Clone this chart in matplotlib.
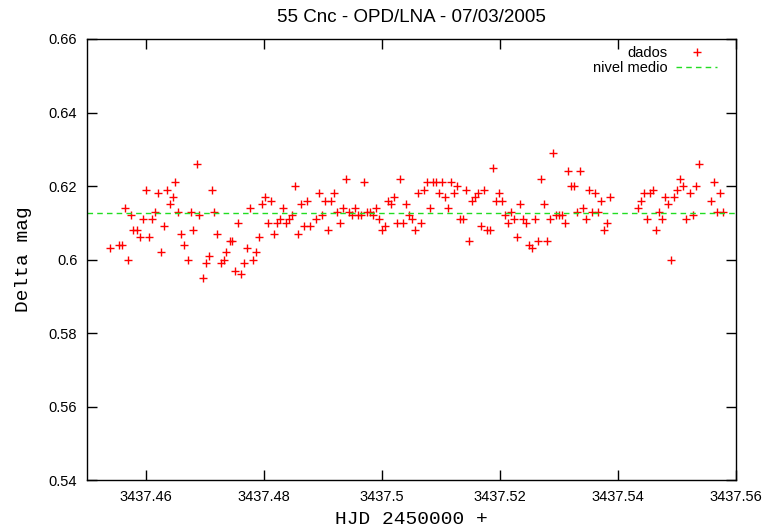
import numpy as np
import matplotlib
matplotlib.use("Agg")
import matplotlib.pyplot as plt
from matplotlib.ticker import FuncFormatter

# Differential photometry of 55 Cnc, OPD/LNA, night of 07/03/2005
hjd_base = 3437.45
hjd_offset = [
    0.00390, 0.00542, 0.00593, 0.00644, 0.00695, 0.00746, 0.00785, 0.00842,
    0.00898, 0.00949, 0.00995, 0.01051, 0.01102, 0.01153, 0.01198, 0.01254,
    0.01305, 0.01351, 0.01402, 0.01453, 0.01497, 0.01547, 0.01598, 0.01649,
    0.01707, 0.01758, 0.01802, 0.01859, 0.01903, 0.01958, 0.02012, 0.02063,
    0.02114, 0.02158, 0.02208, 0.02266, 0.02317, 0.02361, 0.02424, 0.02463,
    0.02514, 0.02564, 0.02615, 0.02666, 0.02717, 0.02768, 0.02819, 0.02869,
    0.02920, 0.02971, 0.03022, 0.03073, 0.03124, 0.03175, 0.03225, 0.03276,
    0.03327, 0.03378, 0.03429, 0.03480, 0.03531, 0.03581, 0.03632, 0.03683,
    0.03737, 0.03785, 0.03886, 0.03937, 0.03988, 0.04039, 0.04090, 0.04141,
    0.04192, 0.04242, 0.04293, 0.04344, 0.04395, 0.04446, 0.04497, 0.04547,
    0.04598, 0.04649, 0.04700, 0.04751, 0.04802, 0.04853, 0.04898, 0.04949,
    0.05000, 0.05051, 0.05102, 0.05153, 0.05203, 0.05254, 0.05305, 0.05356,
    0.05407, 0.05458, 0.05508, 0.05559, 0.05615, 0.05666, 0.05717, 0.05768,
    0.05819, 0.05869, 0.05920, 0.05971, 0.06022, 0.06073, 0.06124, 0.06175,
    0.06225, 0.06276, 0.06327, 0.06378, 0.06429, 0.06480, 0.06531, 0.06581,
    0.06632, 0.06678, 0.06729, 0.06780, 0.06831, 0.06886, 0.06932, 0.06983,
    0.07034, 0.07085, 0.07136, 0.07186, 0.07237, 0.07293, 0.07339, 0.07390,
    0.07441, 0.07492, 0.07542, 0.07593, 0.07644, 0.07695, 0.07746, 0.07797,
    0.07847, 0.07898, 0.07949, 0.08000, 0.08051, 0.08102, 0.08153, 0.08203,
    0.08254, 0.08305, 0.08356, 0.08407, 0.08458, 0.08508, 0.08559, 0.08610,
    0.08661, 0.08712, 0.08768, 0.08819, 0.08869, 0.09344, 0.09395, 0.09446,
    0.09497, 0.09547, 0.09598, 0.09649, 0.09700, 0.09751, 0.09802, 0.09853,
    0.09903, 0.09954, 0.10005, 0.10056, 0.10107, 0.10158, 0.10220, 0.10276,
    0.10322, 0.10373, 0.10571, 0.10632, 0.10673, 0.10734, 0.10785,
]
delta_mag = [
    0.603, 0.604, 0.604, 0.614, 0.600, 0.612, 0.608, 0.608,
    0.606, 0.611, 0.619, 0.606, 0.611, 0.613, 0.618, 0.602,
    0.609, 0.619, 0.615, 0.617, 0.621, 0.613, 0.607, 0.604,
    0.600, 0.613, 0.608, 0.626, 0.612, 0.595, 0.599, 0.601,
    0.619, 0.613, 0.607, 0.599, 0.600, 0.602, 0.605, 0.605,
    0.597, 0.610, 0.596, 0.599, 0.603, 0.614, 0.600, 0.602,
    0.606, 0.615, 0.617, 0.610, 0.616, 0.607, 0.610, 0.611,
    0.614, 0.610, 0.611, 0.612, 0.620, 0.607, 0.615, 0.609,
    0.616, 0.609, 0.611, 0.618, 0.612, 0.616, 0.608, 0.616,
    0.618, 0.613, 0.610, 0.614, 0.622, 0.613, 0.612, 0.614,
    0.612, 0.612, 0.621, 0.613, 0.613, 0.612, 0.614, 0.611,
    0.608, 0.609, 0.616, 0.615, 0.617, 0.610, 0.622, 0.610,
    0.615, 0.612, 0.611, 0.608, 0.618, 0.610, 0.619, 0.621,
    0.614, 0.621, 0.621, 0.618, 0.621, 0.617, 0.614, 0.621,
    0.618, 0.620, 0.611, 0.611, 0.619, 0.605, 0.616, 0.617,
    0.618, 0.609, 0.619, 0.608, 0.608, 0.625, 0.616, 0.618,
    0.616, 0.612, 0.610, 0.613, 0.611, 0.606, 0.615, 0.611,
    0.610, 0.604, 0.603, 0.611, 0.605, 0.622, 0.615, 0.605,
    0.611, 0.629, 0.612, 0.612, 0.612, 0.610, 0.624, 0.620,
    0.620, 0.613, 0.624, 0.614, 0.611, 0.619, 0.613, 0.618,
    0.613, 0.616, 0.608, 0.610, 0.617, 0.614, 0.616, 0.618,
    0.611, 0.618, 0.619, 0.608, 0.613, 0.611, 0.617, 0.615,
    0.600, 0.617, 0.619, 0.622, 0.620, 0.611, 0.618, 0.612,
    0.620, 0.626, 0.616, 0.621, 0.613, 0.618, 0.613,
]
mean_level = 0.6127

x_ticks = [3437.46, 3437.48, 3437.50, 3437.52, 3437.54, 3437.56]
y_ticks = [0.54, 0.56, 0.58, 0.60, 0.62, 0.64, 0.66]

hjd = hjd_base + np.array(hjd_offset)
dmag = np.array(delta_mag)

sans = ["Liberation Sans", "DejaVu Sans"]
mono = ["Liberation Mono", "DejaVu Sans Mono"]

fig = plt.figure(figsize=(7.64, 5.30), dpi=100)
ax = fig.add_axes([87 / 764, 1 - 480 / 530, (736 - 87) / 764, (480 - 39) / 530])

ax.plot(hjd, dmag, linestyle="none", marker="+", color="#ff0000",
        markersize=5.2, markeredgewidth=1.0, label="dados")
ax.axhline(mean_level, color="#22dd22", linestyle=(0, (4, 3)),
           linewidth=1.0, label="nivel medio")

ax.set_xlim(3437.45, 3437.56)
ax.set_ylim(0.54, 0.66)
ax.set_xticks(x_ticks)
ax.set_yticks(y_ticks)
fmt = FuncFormatter(lambda v, p: "%g" % round(v, 6))
ax.xaxis.set_major_formatter(fmt)
ax.yaxis.set_major_formatter(fmt)

ax.tick_params(direction="in", length=7, width=1, top=True, right=True,
               labelsize=10.5, pad=7)
for lab in ax.get_xticklabels() + ax.get_yticklabels():
    lab.set_family(sans)
for s in ax.spines.values():
    s.set_linewidth(1.0)
    s.set_color("black")

ax.set_title("55 Cnc - OPD/LNA - 07/03/2005", fontsize=13.5, family=sans, pad=12)
ax.set_xlabel("HJD 2450000 +", fontsize=14, family=mono, labelpad=5)
ax.set_ylabel("Delta mag", fontsize=14, family=mono, labelpad=12)

leg = ax.legend(loc="upper right", frameon=False, markerfirst=False,
                bbox_to_anchor=(1 - 16 / 649, 1 - 4 / 441),
                prop={"family": sans, "size": 10.5}, handlelength=2.8,
                borderaxespad=0.0, borderpad=0.2, labelspacing=0.05,
                handletextpad=0.6)
for t in leg.get_texts():
    t.set_ha("right")

fig.savefig("out.png", dpi=100)
